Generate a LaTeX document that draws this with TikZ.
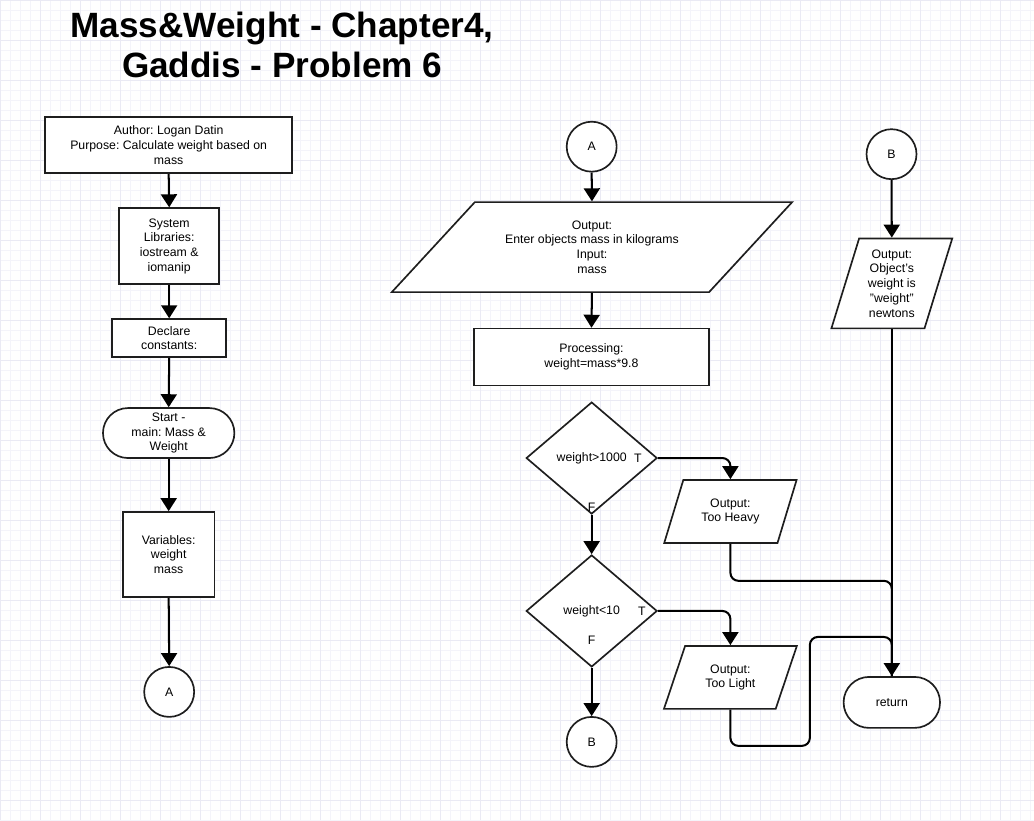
\documentclass[tikz,border=0pt]{standalone}
\usepackage{fontspec}
\setmainfont{Liberation Sans}
\usepackage{tikz}
\usetikzlibrary{shapes.geometric, shapes.misc, arrows.meta}
\definecolor{GridMinor}{RGB}{244,244,250}
\definecolor{GridMajor}{RGB}{234,234,244}
\definecolor{ShapeLine}{RGB}{30,30,30}
\frenchspacing
\tikzset{
  chart/.style={draw=ShapeLine, line width=0.95pt, fill=white, align=center, inner sep=1pt,
    font=\fontsize{7}{8.4}\selectfont},
  procbox/.style={chart, rectangle},
  iobox/.style={chart, trapezium, trapezium stretches=true},
  decision/.style={chart, diamond, inner sep=0pt},
  terminal/.style={chart, rounded rectangle},
  connector/.style={chart, circle, minimum size=1cm, inner sep=0pt},
  flowarr/.style={-{Triangle[length=0.26cm, width=0.32cm]}, line width=1.15pt, black, rounded corners=0.16cm},
  joinline/.style={line width=1.15pt, black, rounded corners=0.16cm},
  tflabel/.style={font=\fontsize{7}{8.4}\selectfont, inner sep=0pt},
}

\begin{document}
\begin{tikzpicture}[x=0.2mm, y=-0.2mm]
    % paper and grid
    \fill[white] (0,0) rectangle (1034,820);
    \draw[GridMinor, line width=0.25pt] (0,0) grid[step=0.2cm] (1034,820);
    \draw[GridMajor, line width=0.3pt] (0,0) grid[step=0.8cm] (1034,820);
    \useasboundingbox (0,0) rectangle (1034,820);

    \node[font=\fontsize{20}{23}\selectfont\bfseries, align=center] (title) at (282,45)
      {Mass\&Weight - Chapter4,\\Gaddis - Problem 6};

    % left column
    \node[procbox, minimum width=4.94cm, minimum height=1.12cm] (author) at (168.5,145)
      {Author: Logan Datin\\Purpose: Calculate weight based on\\mass};
    \node[procbox, minimum width=2.0cm, minimum height=1.52cm] (syslib) at (169,246)
      {System\\Libraries:\\iostream \&\\iomanip};
    \node[procbox, minimum width=2.28cm, minimum height=0.76cm] (declare) at (169,338)
      {Declare\\constants:};
    \node[terminal, minimum width=2.7cm, minimum height=1.0cm] (start) at (168.5,433)
      {Start -\\main: Mass \&\\Weight};
    \node[procbox, minimum width=1.84cm, minimum height=1.7cm] (vars) at (168.5,554.5)
      {Variables:\\weight\\mass};
    \node[connector] (conA) at (169,692) {A};
    \foreach \a/\b in {author/syslib, syslib/declare, declare/start, start/vars, vars/conA}
      \draw[flowarr] (\a.south) -- (\b.north);

    % middle column
    \node[connector] (conA2) at (591.7,146.5) {A};
    \node[iobox, trapezium left angle=42, trapezium right angle=138,
      minimum width=8.02cm, minimum height=1.8cm] (inout) at (592,247)
      {Output:\\Enter objects mass in kilograms\\Input:\\mass};
    \node[procbox, minimum width=4.7cm, minimum height=1.14cm] (proc) at (591.5,357)
      {Processing:\\weight=mass*9.8};
    \node[decision, minimum width=2.62cm, minimum height=2.24cm] (dec1) at (591.7,458) {weight>1000};
    \node[tflabel] (t1) at (638,458) {T};
    \node[tflabel] (f1) at (591.7,507) {F};
    \node[decision, minimum width=2.62cm, minimum height=2.24cm] (dec2) at (591.7,611) {weight<10};
    \node[tflabel] (t2) at (642,611) {T};
    \node[tflabel] (f2) at (591.7,640) {F};
    \node[connector] (conB) at (591.7,742) {B};
    \node[iobox, trapezium left angle=67, trapezium right angle=113,
      minimum width=2.66cm, minimum height=1.26cm] (heavy) at (730.5,511.5) {Output:\\Too Heavy};
    \node[iobox, trapezium left angle=67, trapezium right angle=113,
      minimum width=2.66cm, minimum height=1.26cm] (light) at (730.5,677.5) {Output:\\Too Light};

    \draw[flowarr] (conA2.south) -- (inout.center |- inout.north);
    \draw[flowarr] (inout.center |- inout.south) -- (proc.north);
    \draw[flowarr] (dec1.south) -- (dec2.north);
    \draw[flowarr] (dec2.south) -- (conB.north);
    \draw[flowarr] (dec1.east) -| (heavy.center |- heavy.north);
    \draw[flowarr] (dec2.east) -| (light.center |- light.north);

    % right column
    \node[connector] (conB2) at (891.7,154) {B};
    \node[iobox, trapezium left angle=73, trapezium right angle=107,
      minimum width=2.42cm, minimum height=1.8cm] (wout) at (892,283.3)
      {Output:\\Object\symbol{39}s\\weight is\\\symbol{34}weight\symbol{34}\\newtons};
    \node[terminal, minimum width=2.0cm, minimum height=1.02cm] (ret) at (892,702.5) {return};
    \draw[flowarr] (conB2.south) -- (wout.center |- wout.north);
    \draw[flowarr] (wout.center |- wout.south) -- (ret.north);

    % branches back to return
    \coordinate (lowjog) at (810,746);
    \coordinate (highjog) at (810,637);
    \draw[joinline] (heavy.center |- heavy.south) -- ++(0,37) -| (ret.north);
    \draw[joinline] (light.center |- light.south) |- (lowjog) -- (highjog) -| (ret.north);
\end{tikzpicture}
\end{document}
